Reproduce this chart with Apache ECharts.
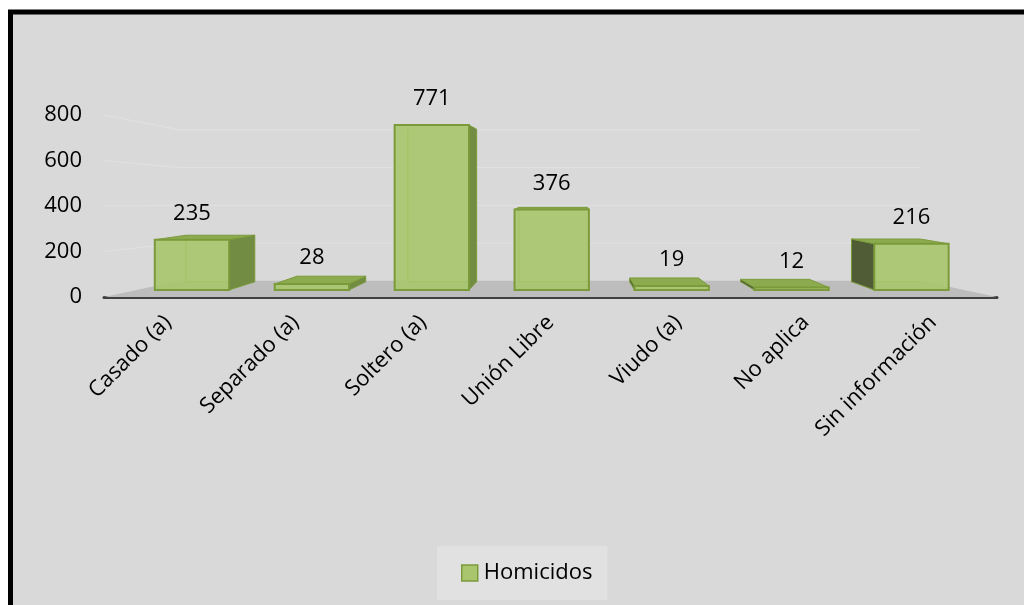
<!DOCTYPE html>
<html>
<head>
<meta charset="utf-8">
<script src="https://cdn.jsdelivr.net/npm/echarts@6/dist/echarts.min.js"></script>
<style>
html,body{margin:0;padding:0;background:#fff;}
#chart{width:1024px;height:605px;}
</style>
</head>
<body>
<div id="chart"></div>
<script>
const categories = ['Casado (a)', 'Separado (a)', 'Soltero (a)', 'Unión Libre', 'Viudo (a)', 'No aplica', 'Sin información'];
const homicidios = [235, 28, 771, 376, 19, 12, 216];
const yTicks = [0, 200, 400, 600, 800];
const seriesName = 'Homicidos';

const FONT = '"Open Sans", "DejaVu Sans", sans-serif';
// perspective settings (bars)
const VP = [571, 180];
const KF = 0.94;   // front face depth
const KB = 0.925;  // back face depth relative to front
// perspective settings (walls / floor)
const VPW = [550, 202];
const KW = 0.83;

function proj(p, k, vp) {
  vp = vp || VP;
  return [vp[0] + (p[0] - vp[0]) * k, vp[1] + (p[1] - vp[1]) * k];
}

const chart = echarts.init(document.getElementById('chart'));

function renderWalls(params, api) {
  const cs = params.coordSys;
  const x0 = cs.x, x1 = cs.x + cs.width;
  const y0 = api.coord([0, 0])[1];
  const children = [];
  const fl = proj([x0, y0], KW, VPW), fr = proj([x1, y0], KW, VPW);
  children.push({
    type: 'polygon',
    shape: { points: [[x0, y0], [x1, y0], fr, fl] },
    style: { fill: '#bdbdbd' }
  });
  yTicks.forEach(function (v) {
    if (v === 0) return;
    const y = api.coord([0, v])[1];
    const bl = proj([x0, y], KW, VPW), br = proj([x1, y], KW, VPW);
    children.push({
      type: 'polyline',
      shape: { points: [[x0, y], bl, br] },
      style: { stroke: '#e0e0e0', lineWidth: 1.2, fill: null }
    });
  });
  return { type: 'group', children: children };
}

function renderBar(params, api) {
  const i = api.value(0), v = api.value(1);
  const base = api.coord([i, 0]);
  const top = api.coord([i, v]);
  const bw = api.size([1, 0])[0] * 0.62;
  const xl = base[0] - bw / 2, xr = base[0] + bw / 2;
  const yb = base[1], yt = top[1];
  const kb = KF * KB;
  const FLT = proj([xl, yt], KF), FRT = proj([xr, yt], KF), FLB = proj([xl, yb], KF), FRB = proj([xr, yb], KF);
  const BLT = proj([xl, yt], kb), BRT = proj([xr, yt], kb), BLB = proj([xl, yb], kb), BRB = proj([xr, yb], kb);
  const edge = '#7b9b3b';
  const children = [];
  // back edges (seen through)
  children.push({ type: 'polyline', shape: { points: [BLT, BLB, BRB] }, style: { stroke: '#8eae4f', lineWidth: 1.2, fill: null } });
  if (FRT[0] < VP[0]) {
    children.push({ type: 'polygon', shape: { points: [FRT, BRT, BRB, FRB] }, style: { fill: '#728c44', stroke: edge, lineWidth: 1 } });
  }
  if (FLT[0] > VP[0]) {
    children.push({ type: 'polygon', shape: { points: [FLT, BLT, BLB, FLB] }, style: { fill: '#4f5c35', stroke: edge, lineWidth: 1 } });
  }
  if (FLT[1] > VP[1]) {
    children.push({ type: 'polygon', shape: { points: [FLT, FRT, BRT, BLT] }, style: { fill: '#8cab4e', stroke: edge, lineWidth: 1 } });
  }
  children.push({
    type: 'rect',
    shape: { x: FLT[0], y: FLT[1], width: FRT[0] - FLT[0], height: FLB[1] - FLT[1] },
    style: { fill: 'rgba(167,197,106,0.9)', stroke: edge, lineWidth: 2 }
  });
  children.push({
    type: 'text',
    style: {
      text: String(v), x: (FLT[0] + FRT[0]) / 2, y: FLT[1] - 26,
      align: 'center', verticalAlign: 'middle', fill: '#000', font: '22px ' + FONT
    }
  });
  return { type: 'group', children: children };
}

const option = {
  animation: false,
  backgroundColor: '#ffffff',
  graphic: [{
    type: 'rect', z: -10,
    shape: { x: 10.5, y: 12, width: 1030, height: 610 },
    style: { fill: '#d9d9d9', stroke: '#000', lineWidth: 5 }
  }],
  grid: { left: 104, right: 27, top: 115, bottom: 308, containLabel: false },
  legend: {
    data: [seriesName],
    left: 437, top: 546,
    backgroundColor: '#e1e1e1',
    padding: [16, 15, 16, 24],
    itemWidth: 16, itemHeight: 16, itemGap: 10,
    icon: 'rect',
    itemStyle: { color: '#a9c66e', borderColor: '#7b9b3b', borderWidth: 1.5 },
    textStyle: { fontSize: 22, color: '#000', fontFamily: FONT, padding: [0, 0, 0, 1] }
  },
  xAxis: {
    type: 'category', data: categories,
    axisLine: { show: true, lineStyle: { color: '#404040', width: 3 } },
    axisTick: { show: false },
    axisLabel: { interval: 0, rotate: 45, margin: 22, fontSize: 22, color: '#000', fontFamily: FONT },
    splitLine: { show: false }
  },
  yAxis: {
    type: 'value', min: 0, max: 800, interval: 200,
    axisLine: { show: false }, axisTick: { show: false },
    splitLine: { show: false },
    axisLabel: { margin: 22, fontSize: 22, color: '#000', fontFamily: FONT,
      formatter: function (val) { return yTicks.indexOf(val) >= 0 ? String(val) : ''; } }
  },
  series: [
    { type: 'custom', name: 'walls', z: 1, silent: true, renderItem: renderWalls, data: [[0, 0]], clip: false },
    { type: 'custom', name: seriesName, z: 3, renderItem: renderBar, clip: false,
      itemStyle: { color: '#a9c66e' },
      encode: { x: 0, y: 1 },
      data: homicidios.map(function (v, i) { return [i, v]; }) }
  ]
};
chart.setOption(option);
</script>
</body>
</html>
